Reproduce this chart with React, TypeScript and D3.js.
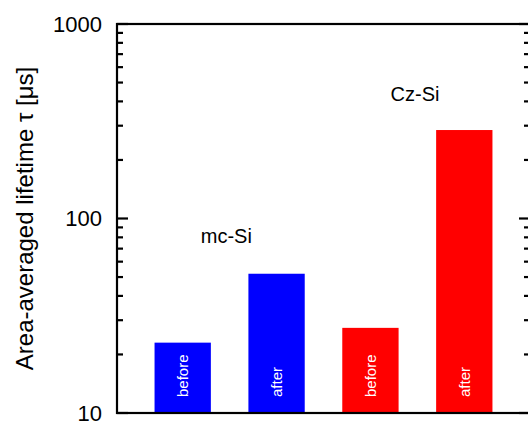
import React from "react";
import * as d3 from "d3";

const categories = ["mc-before", "mc-after", "cz-before", "cz-after"];
const barLabels = ["before", "after", "before", "after"];
const values = [23, 52, 27.4, 285];
const barColors = ["#0000ff", "#0000ff", "#ff0000", "#ff0000"];
const groupLabels = ["mc-Si", "Cz-Si"];
const groupLabelValues = [75, 404];
const groupLabelCenters = [0.465, 2.475];
const majorTicks = [10, 100, 1000];
const minorTicks = [20, 30, 40, 50, 60, 70, 80, 90, 200, 300, 400, 500, 600, 700, 800, 900];
const yTitle = "Area-averaged lifetime \u03c4 [\u03bcs]";

const W = 528;
const H = 421;
const left = 117;
const right = 530;
const top = 24;
const bottom = 413;
const FONT = "'Liberation Sans', Arial, Helvetica, sans-serif";

export default function App() {
  const y = d3.scaleLog().domain([10, 1000]).range([bottom, top]);
  const x = d3.scaleBand<string>().domain(categories).range([left, right]).paddingInner(0.4).paddingOuter(0.4);
  const bw = x.bandwidth();
  const step = x.step();
  const centerAt = (pos: number) => (x(categories[0]) as number) + bw / 2 + pos * step;

  return (
    <svg width={W} height={H} style={{ position: "absolute", left: 0, top: 0 }} fontFamily={FONT}>
      <rect x={0} y={0} width={W} height={H} fill="#fff" />
      {categories.map((c, i) => (
        <g key={c}>
          <rect x={x(c)} y={y(values[i])} width={bw} height={bottom - y(values[i])} fill={barColors[i]} />
          <text
            transform={`translate(${(x(c) as number) + bw / 2},${bottom - 16}) rotate(-90)`}
            dy="0.35em"
            fontSize={15}
            fill="#fff"
            textAnchor="start"
          >
            {barLabels[i]}
          </text>
        </g>
      ))}
      {groupLabels.map((g, i) => (
        <text key={g} x={centerAt(groupLabelCenters[i])} y={y(groupLabelValues[i])} fontSize={20} textAnchor="middle" fill="#000">
          {g}
        </text>
      ))}
      {/* frame */}
      <rect x={left} y={top} width={right - left} height={bottom - top} fill="none" stroke="#000" strokeWidth={2.2} />
      {/* ticks */}
      {majorTicks.map((t) => (
        <g key={"M" + t}>
          <line x1={left} x2={left + 11} y1={y(t)} y2={y(t)} stroke="#000" strokeWidth={2.2} />
          <line x1={right} x2={right - 11} y1={y(t)} y2={y(t)} stroke="#000" strokeWidth={2.2} />
          <text x={102} y={y(t)} dy="0.35em" fontSize={22} textAnchor="end" fill="#000">
            {d3.format("d")(t)}
          </text>
        </g>
      ))}
      {minorTicks.map((t) => (
        <g key={"m" + t}>
          <line x1={left} x2={left + 6} y1={y(t)} y2={y(t)} stroke="#000" strokeWidth={2.2} />
          <line x1={right} x2={right - 6} y1={y(t)} y2={y(t)} stroke="#000" strokeWidth={2.2} />
        </g>
      ))}
      <text transform={`translate(32.5,${(top + bottom) / 2}) rotate(-90)`} fontSize={24} textAnchor="middle" fill="#000">
        {yTitle}
      </text>
    </svg>
  );
}
